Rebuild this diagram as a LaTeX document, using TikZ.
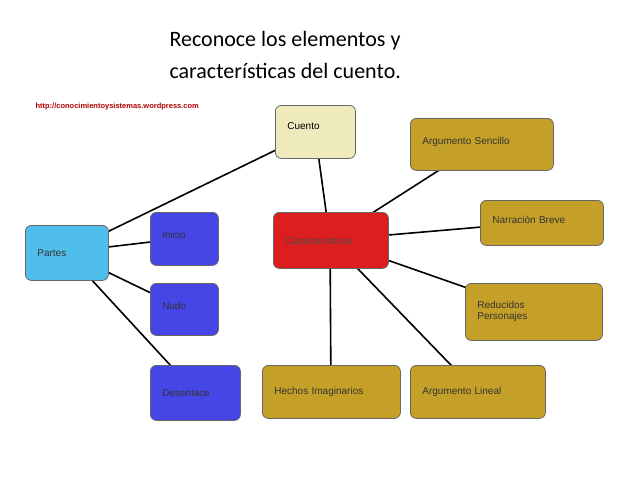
\documentclass[tikz,border=0pt]{standalone}
\usepackage{fontspec}
\setmainfont{Liberation Sans}
\newfontfamily\titlefont{Carlito}
\usetikzlibrary{positioning}
\definecolor{cuentoc}{RGB}{238,234,190}
\definecolor{goldc}{RGB}{196,160,40}
\definecolor{bluec}{RGB}{70,70,230}
\definecolor{skyc}{RGB}{80,190,235}
\definecolor{redc}{RGB}{220,30,30}
\tikzset{
  box/.style={draw=black!60, rounded corners=6pt, thick, font=\fontsize{10}{11}\selectfont,
    align=left, inner xsep=12pt, inner ysep=0pt, anchor=north west},
  gold/.style={box, fill=goldc, text=black!80},
  blueb/.style={box, fill=bluec, text=black!80},
  link/.style={line width=1.6pt, black}
}
\newcommand{\bx}[6]{% style, name, x, y, w, h, then text
  \pgfmathsetmacro\boxtw{#5-24}%
  \node[#1, minimum width=#5pt, minimum height=#6pt, text width=\boxtw pt] (#2) at (#3,#4)}
\begin{document}
\begin{tikzpicture}[x=1pt, y=-1pt]
    \useasboundingbox (0,0) rectangle (638,479);
    \fill[white] (0,0) rectangle (638,479);

    % Titulo
    \node[font=\titlefont\fontsize{22}{32}\selectfont, align=left, anchor=north west] (titulo) at (166,28)
      {Reconoce los elementos y\\características del cuento.};
    \node[font=\fontsize{7.5}{8}\selectfont\bfseries, text=red!70!black, anchor=west] (url) at (32,107)
      {http://conocimientoysistemas.wordpress.com};

    % Conectores
    \coordinate (pc) at (66,252);
    \coordinate (cc) at (315,131);
    \coordinate (kc) at (330,240);
    \draw[link] (pc) -- (cc);
    \draw[link] (pc) -- (184,238);
    \draw[link] (pc) -- (184,309);
    \draw[link] (pc) -- (195,392);
    \draw[link] (cc) -- (kc);
    \draw[link] (kc) -- (480,144);
    \draw[link] (kc) -- (540,222);
    \draw[link] (kc) -- (533,311);
    \draw[link] (kc) -- (331,392);
    \draw[link] (kc) -- (477,392);

    % Nodos
    \bx{box, fill=cuentoc}{cuento}{275}{105}{80}{53}{\raisebox{12pt}{Cuento}};
    \bx{box, fill=redc, text=black!70}{carac}{273}{212}{115}{56}{Características};
    \bx{box, fill=skyc, text=black!80}{partes}{25}{225}{83}{55}{Partes};
    \bx{blueb}{inicio}{150}{212}{68}{53}{\raisebox{8pt}{Inicio}};
    \bx{blueb}{nudo}{150}{283}{68}{52}{\raisebox{8pt}{Nudo}};
    \bx{blueb}{desenlace}{150}{365}{90}{55}{Desenlace};
    \bx{gold}{sencillo}{410}{118}{143}{52}{\raisebox{8pt}{Argumento Sencillo}};
    \bx{gold}{breve}{480}{200}{123}{45}{\raisebox{6pt}{Narración Breve}};
    \bx{gold}{personajes}{465}{283}{137}{57}{Reducidos\\Personajes};
    \bx{gold}{hechos}{262}{365}{138}{53}{Hechos Imaginarios};
    \bx{gold}{lineal}{410}{365}{135}{53}{Argumento Lineal};
\end{tikzpicture}
\end{document}
